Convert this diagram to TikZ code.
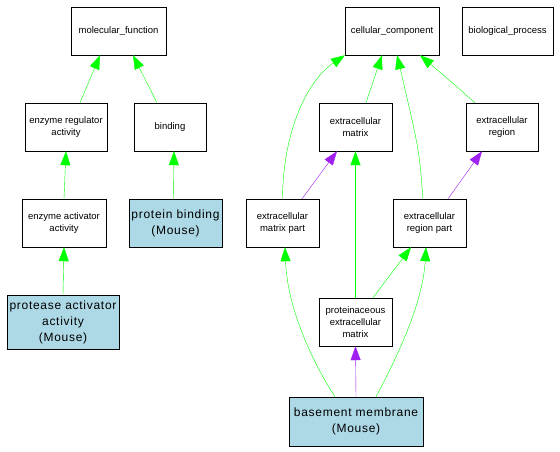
\documentclass[tikz,border=0pt]{standalone}
\usepackage{fontspec}
\setmainfont{Liberation Sans}
\newfontfamily\mousefont[LetterSpace=6]{Liberation Sans}
\usetikzlibrary{arrows.meta}
\definecolor{gogreen}{RGB}{0,255,0}
\definecolor{gopurple}{RGB}{160,32,240}
\definecolor{gomouse}{RGB}{173,216,230}

\begin{document}
\begin{tikzpicture}[x=1pt, y=-1pt,
  term/.style={draw, thin, fill=white, align=center, inner sep=0pt,
    minimum height=48pt, font=\fontsize{9.5}{12.3}\selectfont},
  mouse/.style={term, fill=gomouse, font=\mousefont\fontsize{12}{16}\selectfont},
  isa/.style={gogreen, thin, -{Triangle[length=14pt,width=10pt]}},
  partof/.style={gopurple, thin, -{Triangle[length=14pt,width=10pt]}}]
  \useasboundingbox (0,0) rectangle (560,452);
  % Molecular function branch
  \node[term, minimum width=95pt] (molfun) at (118.5,31) {molecular\_function};
  \node[term, minimum width=82pt] (enzreg) at (66,127) {enzyme regulator\\activity};
  \node[term, minimum width=72pt] (binding) at (170,127) {binding};
  \node[term, minimum width=84pt] (enzact) at (64,223) {enzyme activator\\activity};
  \node[mouse, minimum width=93pt] (protbind) at (175.5,223) {protein binding\\(Mouse)};
  \node[mouse, minimum width=112pt, minimum height=54pt] (protact) at (63,322) {protease activator\\activity\\(Mouse)};
  % Cellular component branch
  \node[term, minimum width=94pt] (cellcomp) at (392,31) {cellular\_component};
  \node[term, minimum width=91pt] (bioproc) at (507.5,31) {biological\_process};
  \node[term, minimum width=73pt] (ecm) at (355.5,127) {extracellular\\matrix};
  \node[term, minimum width=72pt] (ecr) at (502,127) {extracellular\\region};
  \node[term, minimum width=73pt] (ecmpart) at (282.5,223) {extracellular\\matrix part};
  \node[term, minimum width=73pt] (ecrpart) at (429.5,223) {extracellular\\region part};
  \node[term, minimum width=73pt] (protecm) at (355.5,322) {proteinaceous\\extracellular\\matrix};
  \node[mouse, minimum width=134pt, minimum height=49pt] (basemem) at (356,421.5) {basement membrane\\(Mouse)};
  % Edges, child to parent
  \draw[isa] ([xshift=14pt]enzreg.north) -- ([xshift=-18.5pt]molfun.south);
  \draw[isa] ([xshift=-13pt]binding.north) -- ([xshift=14.5pt]molfun.south);
  \draw[isa] (enzact.north) -- (enzreg.south);
  \draw[isa] ([xshift=-2pt]protbind.north) -- ([xshift=4pt]binding.south);
  \draw[isa] (protact.north) -- (enzact.south);
  \draw[isa] ([xshift=10.5pt]ecm.north) -- ([xshift=-10pt]cellcomp.south);
  \draw[isa] ([xshift=-27pt]ecr.north) .. controls ++(-18,-16) .. ([xshift=28pt]cellcomp.south);
  \draw[isa] (ecmpart.north) .. controls (283,130) and (308,80) .. ([xshift=-47pt]cellcomp.south);
  \draw[isa] ([xshift=-6.5pt]ecrpart.north) .. controls ++(-4,-50) .. ([xshift=5pt]cellcomp.south);
  \draw[partof] ([xshift=19.5pt]ecmpart.north) -- ([xshift=-18.5pt]ecm.south);
  \draw[partof] ([xshift=18.5pt]ecrpart.north) -- ([xshift=-20pt]ecr.south);
  \draw[isa] (protecm.north) -- (ecm.south);
  \draw[isa] ([xshift=17.5pt]protecm.north) -- ([xshift=-18.5pt]ecrpart.south);
  \draw[isa] ([xshift=-21pt]basemem.north) .. controls (305,350) and (287,300) .. ([xshift=2.5pt]ecmpart.south);
  \draw[partof] (basemem.north) -- (protecm.south);
  \draw[isa] ([xshift=20pt]basemem.north) .. controls (401,350) and (423,300) .. ([xshift=-3.5pt]ecrpart.south);
\end{tikzpicture}
\end{document}
